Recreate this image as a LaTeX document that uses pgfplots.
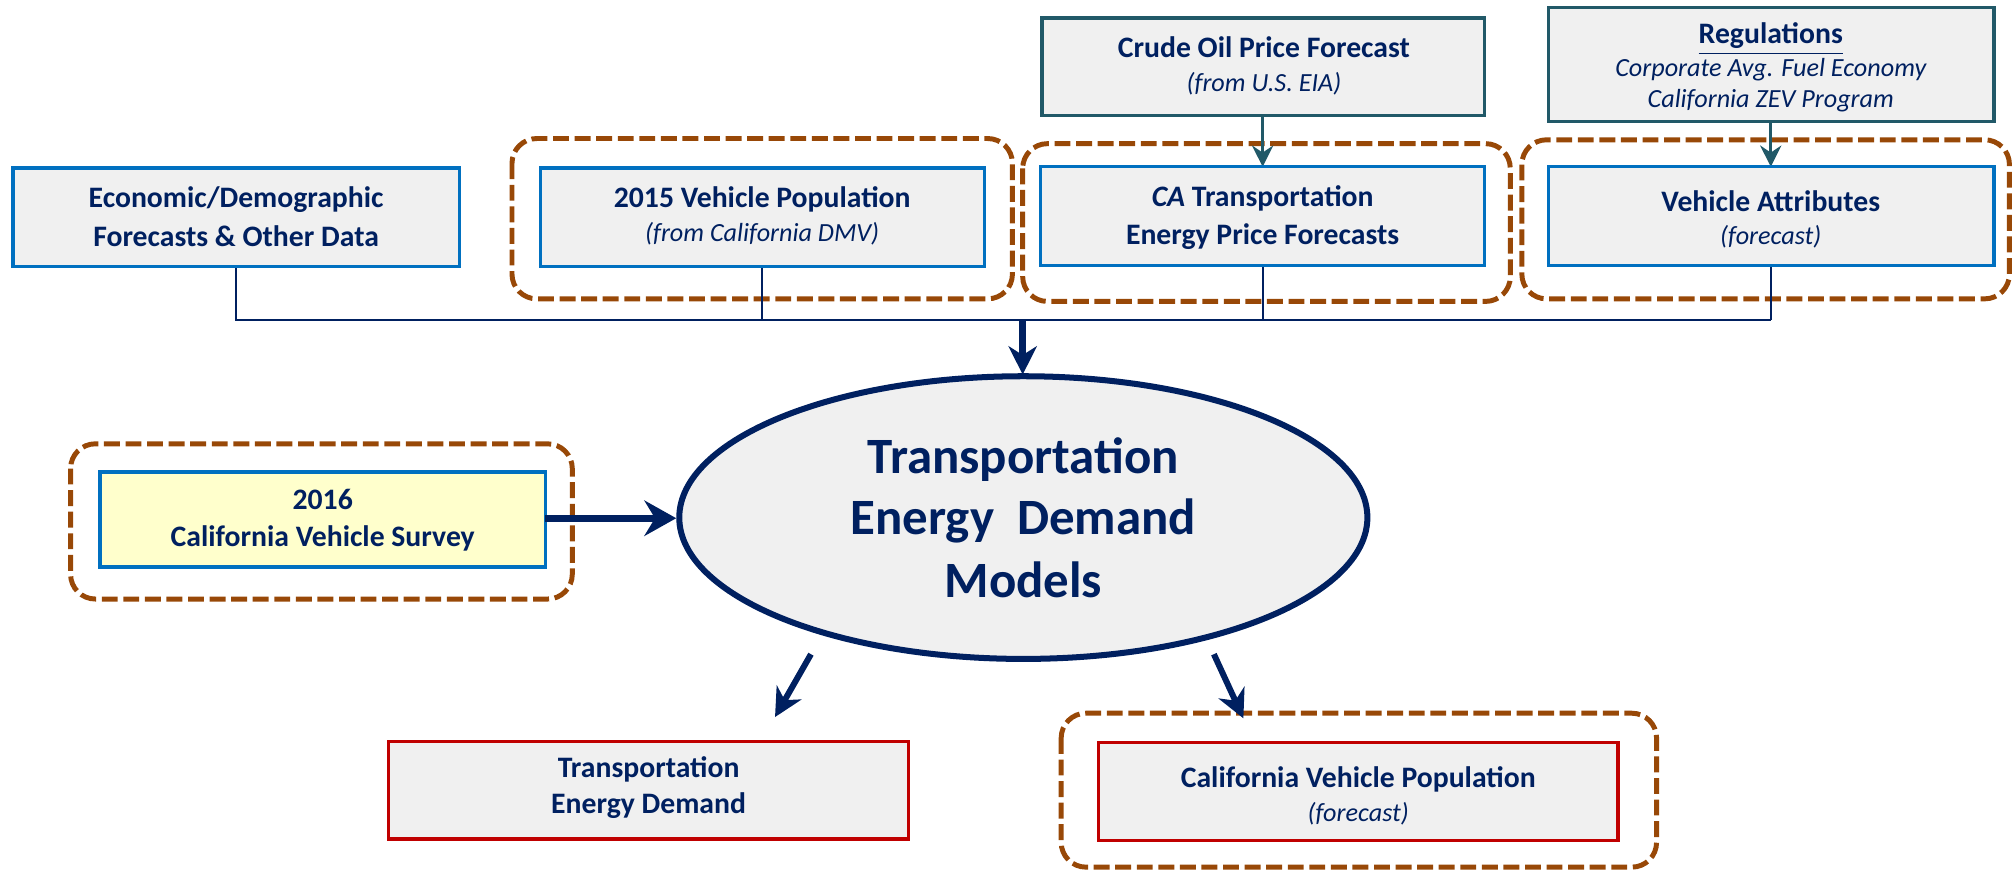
\documentclass[border=0pt]{standalone}
\usepackage{pgfplots}
\pgfplotsset{compat=1.18}
\usepackage{fontspec}
\setmainfont{Carlito}
\usetikzlibrary{shapes.geometric,arrows.meta}
\definecolor{navy}{HTML}{002060}
\definecolor{bblue}{HTML}{0070C0}
\definecolor{brn}{HTML}{984807}
\definecolor{tealb}{HTML}{215968}
\definecolor{rd}{HTML}{C00000}
\definecolor{fillg}{HTML}{F0F0F0}
\definecolor{yel}{HTML}{FFFFCC}
\newcommand{\bt}{\bfseries\fontsize{8.4}{10}\selectfont}
\newcommand{\itf}{\itshape\fontsize{7.4}{9}\selectfont}
\begin{document}
\begin{tikzpicture}[
  tb/.style={text=navy, anchor=base, inner sep=0pt},
  dbox/.style={draw=brn, line width=1.4pt, dash pattern=on 4.5pt off 1.6pt, rounded corners=7pt},
]
\begin{axis}[
  width=20cm, height=8.658cm, scale only axis,
  xmin=0, xmax=1568, ymin=0, ymax=679, y dir=reverse,
  hide axis, clip=false,
]
% dashed groups
\draw[dbox] (axis cs:399,108) rectangle (axis cs:789,233);
\draw[dbox] (axis cs:797,112) rectangle (axis cs:1177,235);
\draw[dbox] (axis cs:1186,109) rectangle (axis cs:1566,233);
\draw[dbox] (axis cs:55,346) rectangle (axis cs:446,467);
\draw[dbox] (axis cs:827,556) rectangle (axis cs:1291,676);

% connectors
\draw[navy, line width=0.55pt] (axis cs:184,208) -- (axis cs:184,249.4) -- (axis cs:1380,249.4);
\draw[navy, line width=0.55pt] (axis cs:594,208) -- (axis cs:594,249.4);
\draw[navy, line width=0.55pt] (axis cs:984,207) -- (axis cs:984,249.4);
\draw[navy, line width=0.55pt] (axis cs:1380,207) -- (axis cs:1380,249.4);
\draw[navy, line width=2pt, -{Stealth[length=8pt,width=8pt,inset=2.5pt]}] (axis cs:797,249.4) -- (axis cs:797,292);

% teal arrows
\draw[tealb, line width=0.9pt, -{Stealth[length=6pt,width=6pt,inset=2pt]}] (axis cs:984,90) -- (axis cs:984,130);
\draw[tealb, line width=0.9pt, -{Stealth[length=6pt,width=6pt,inset=2pt]}] (axis cs:1380,95) -- (axis cs:1380,130);

% top boxes
\filldraw[fill=fillg, draw=tealb, line width=1pt] (axis cs:812,14) rectangle (axis cs:1157,90);
\filldraw[fill=fillg, draw=tealb, line width=0.9pt] (axis cs:1207,6) rectangle (axis cs:1554,95);
\filldraw[fill=fillg, draw=bblue, line width=0.95pt] (axis cs:10,131) rectangle (axis cs:358,208);
\filldraw[fill=fillg, draw=bblue, line width=0.95pt] (axis cs:421,131) rectangle (axis cs:767,208);
\filldraw[fill=fillg, draw=bblue, line width=0.95pt] (axis cs:811,130) rectangle (axis cs:1157,207);
\filldraw[fill=fillg, draw=bblue, line width=0.95pt] (axis cs:1207,130) rectangle (axis cs:1554,207);

\node[tb, font=\bt] at (axis cs:985,45) {Crude Oil Price Forecast};
\node[tb, font=\itf] at (axis cs:985,71) {(from U.S. EIA)};
\node[tb, font=\bt] at (axis cs:1380,34) {\underline{Regulations}};
\node[tb, font=\itf] at (axis cs:1380,60) {Corporate Avg. Fuel Economy};
\node[tb, font=\itf] at (axis cs:1380,84) {California ZEV Program};

\node[tb, font=\bt] at (axis cs:184,162) {Economic/Demographic};
\node[tb, font=\bt] at (axis cs:184,192) {Forecasts \& Other Data};
\node[tb, font=\bt] at (axis cs:594,162) {2015 Vehicle Population};
\node[tb, font=\itf] at (axis cs:594,188.5) {(from California DMV)};
\node[tb, font=\bt] at (axis cs:984,161) {\textit{CA} Transportation};
\node[tb, font=\bt] at (axis cs:984,191) {Energy Price Forecasts};
\node[tb, font=\bt] at (axis cs:1380,165) {Vehicle Attributes};
\node[tb, font=\itf] at (axis cs:1380,191) {(forecast)};

% survey
\filldraw[fill=yel, draw=bblue, line width=0.95pt] (axis cs:78,368) rectangle (axis cs:425,442);
\node[tb, font=\bt] at (axis cs:251.5,397) {2016};
\node[tb, font=\bt] at (axis cs:251.5,426) {California Vehicle Survey};
\draw[navy, line width=1.9pt, -{Stealth[length=9pt,width=10pt,inset=3pt]}] (axis cs:425,404) -- (axis cs:527,404);

% ellipse
\node[ellipse, draw=navy, line width=1.7pt, fill=fillg, minimum width=6.84cm, minimum height=2.81cm, inner sep=0pt] at (axis cs:797.5,403.5) {};
\node[tb, font=\bfseries\fontsize{14.4}{17}\selectfont] at (axis cs:797.5,369) {Transportation};
\node[tb, font=\bfseries\fontsize{14.4}{17}\selectfont] at (axis cs:797.5,417) {Energy\ \ Demand};
\node[tb, font=\bfseries\fontsize{14.4}{17}\selectfont] at (axis cs:797.5,466) {Models};

% output arrows
\draw[navy, line width=1.7pt, -{Stealth[length=8pt,width=8pt,inset=2.5pt]}] (axis cs:632,510) -- (axis cs:604,559);
\draw[navy, line width=1.7pt, -{Stealth[length=8pt,width=8pt,inset=2.5pt]}] (axis cs:946,510) -- (axis cs:969,560);

% bottom boxes
\filldraw[fill=fillg, draw=rd, line width=0.95pt] (axis cs:303,578) rectangle (axis cs:708,654);
\filldraw[fill=fillg, draw=rd, line width=0.95pt] (axis cs:856,579) rectangle (axis cs:1261,655);
\node[tb, font=\bt] at (axis cs:505.5,606) {Transportation};
\node[tb, font=\bt] at (axis cs:505.5,634) {Energy Demand};
\node[tb, font=\bt] at (axis cs:1058.5,614) {California Vehicle Population};
\node[tb, font=\itf] at (axis cs:1058.5,640.5) {(forecast)};
\end{axis}
\pgfresetboundingbox
\useasboundingbox (0,0) rectangle (20cm,8.658cm);
\end{tikzpicture}
\end{document}
